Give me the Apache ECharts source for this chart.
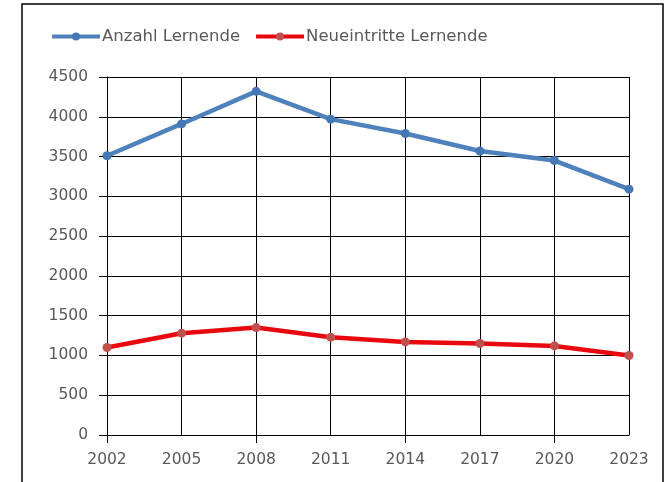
<!DOCTYPE html>
<html>
<head>
<meta charset="utf-8">
<script src="https://cdn.jsdelivr.net/npm/echarts@6/dist/echarts.min.js"></script>
<style>html,body{margin:0;padding:0;background:#fff}#c{width:670px;height:482px}</style>
</head>
<body>
<div id="c"></div>
<script>
const years = ['2002','2005','2008','2011','2014','2017','2020','2023'];
const anzahlLernende = [3510, 3910, 4320, 3970, 3790, 3570, 3450, 3090];
const neueintritteLernende = [1100, 1280, 1350, 1230, 1170, 1150, 1120, 1000];
const seriesNames = ['Anzahl Lernende', 'Neueintritte Lernende'];

const chart = echarts.init(document.getElementById('c'));
const font = 'DejaVu Sans';
chart.setOption({
  animation: false,
  backgroundColor: '#fff',
  graphic: [{
    type: 'rect', shape: {x: 22, y: 4, width: 641, height: 500},
    style: {fill: 'none', stroke: '#000', lineWidth: 1.5}, silent: true
  }],
  legend: {
    left: 50, top: 28, padding: 0, itemWidth: 48, itemHeight: 10, itemGap: 14,
    lineStyle: {width: 4},
    textStyle: {fontFamily: font, fontSize: 16.5, color: '#595959', padding: [0,0,0,-3]},
    data: seriesNames
  },
  grid: {left: 107, right: 41, top: 77, bottom: 47},
  xAxis: {
    type: 'category', data: years, boundaryGap: false,
    axisLine: {lineStyle: {color: '#000', width: 1}},
    axisTick: {show: true, interval: 1, length: 8, lineStyle: {color: '#000'}},
    axisLabel: {fontFamily: font, fontSize: 15.5, color: '#595959', margin: 17},
    splitLine: {show: true, lineStyle: {color: '#000', width: 1}}
  },
  yAxis: {
    type: 'value', min: 0, max: 4500, interval: 500,
    axisLine: {show: true, lineStyle: {color: '#000'}},
    axisTick: {show: true, length: 8, lineStyle: {color: '#000'}},
    axisLabel: {fontFamily: font, fontSize: 15.5, color: '#595959', margin: 19, formatter: v => String(v)},
    splitLine: {show: true, lineStyle: {color: '#000', width: 1}}
  },
  series: [
    {
      name: seriesNames[0], type: 'line', data: anzahlLernende,
      symbol: 'circle', symbolSize: 9,
      lineStyle: {color: '#4f81bd', width: 4.5},
      itemStyle: {color: '#4677b5'}
    },
    {
      name: seriesNames[1], type: 'line', data: neueintritteLernende,
      symbol: 'circle', symbolSize: 9,
      lineStyle: {color: '#e8090f', width: 4.5},
      itemStyle: {color: '#c0504d'}
    }
  ]
});
</script>
</body>
</html>
